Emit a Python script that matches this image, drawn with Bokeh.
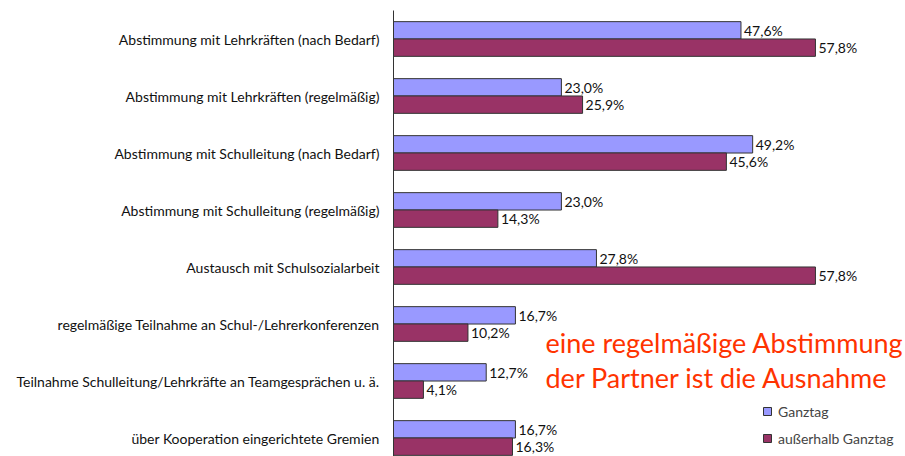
from bokeh.plotting import figure
from bokeh.models import (Range1d, FixedTicker, ColumnDataSource, LabelSet, Legend,
                          LegendItem, Label)
from bokeh.core.properties import value
from bokeh.embed import file_html
from bokeh.resources import INLINE

categories = [
    "Abstimmung mit Lehrkräften (nach Bedarf)",
    "Abstimmung mit Lehrkräften (regelmäßig)",
    "Abstimmung mit Schulleitung (nach Bedarf)",
    "Abstimmung mit Schulleitung (regelmäßig)",
    "Austausch mit Schulsozialarbeit",
    "regelmäßige Teilnahme an Schul-/Lehrerkonferenzen",
    "Teilnahme Schulleitung/Lehrkräfte an Teamgesprächen u. ä.",
    "über Kooperation eingerichtete Gremien",
]
ganztag = [47.6, 23.0, 49.2, 23.0, 27.8, 16.7, 12.7, 16.7]
ausserhalb = [57.8, 25.9, 45.6, 14.3, 57.8, 10.2, 4.1, 16.3]
series_names = ["Ganztag", "außerhalb Ganztag"]
colors = ["#9999FF", "#993366"]
note_lines = ["eine regelmäßige Abstimmung", "der Partner ist die Ausnahme"]

FONT = "Lato"
W, H = 903, 456
left = 393
px_per_pct = 7.3
band = 57.0
top_px = 10

idx = list(range(len(categories)))
x_end = (W - left) / px_per_pct
y_bottom = -0.5 + (H - top_px) / band

p = figure(width=W, height=H, output_backend="svg", toolbar_location=None,
           x_range=Range1d(0, x_end), y_range=Range1d(y_bottom, -0.5),
           min_border_left=left, min_border_right=0, min_border_top=top_px,
           min_border_bottom=0)
p.xaxis.visible = False
p.xgrid.visible = False
p.ygrid.visible = False
p.outline_line_color = None
p.background_fill_color = "white"

off = 0.152
h = 0.305
def fmt(v):
    return ("%.1f%%" % v).replace(".", ",")

src_g = ColumnDataSource(dict(y=[i - off for i in idx], v=ganztag,
                              lab=[fmt(v) for v in ganztag]))
src_a = ColumnDataSource(dict(y=[i + off for i in idx], v=ausserhalb,
                              lab=[fmt(v) for v in ausserhalb]))

r1 = p.hbar(y="y", left=0, right="v", height=h, source=src_g,
            fill_color=colors[0], line_color="#333333", line_width=1)
r2 = p.hbar(y="y", left=0, right="v", height=h, source=src_a,
            fill_color=colors[1], line_color="#333333", line_width=1)

for src in (src_g, src_a):
    p.add_layout(LabelSet(x="v", y="y", text="lab", source=src, x_offset=3,
                          text_baseline="middle", text_align="left",
                          text_font=value(FONT), text_font_size=value("14px"),
                          text_color="#111111"))

ax = p.yaxis[0]
ax.ticker = FixedTicker(ticks=idx)
ax.major_label_overrides = {i: c for i, c in enumerate(categories)}
ax.major_tick_line_color = None
ax.minor_tick_line_color = None
ax.axis_line_color = "#333333"
ax.major_label_standoff = 8
ax.major_label_text_font = FONT
ax.major_label_text_font_size = "14px"
ax.major_label_text_color = "#111111"

for k, line in enumerate(note_lines):
    p.add_layout(Label(x=152, y=H - 342 - 35 * k, x_units="screen",
                       y_units="screen", text=line, text_font=FONT,
                       text_font_size="27px", text_color="#FF3300",
                       text_baseline="middle"))

legend = Legend(items=[LegendItem(label=series_names[0], renderers=[r1]),
                       LegendItem(label=series_names[1], renderers=[r2])],
                location=(369, 8), glyph_width=10, glyph_height=10,
                label_height=20, spacing=7, padding=0, margin=0,
                label_text_font=FONT, label_text_font_size="14px",
                label_standoff=6, border_line_color=None,
                background_fill_alpha=0)
p.add_layout(legend, "center")

open("out.html", "w").write(file_html(p, INLINE))
